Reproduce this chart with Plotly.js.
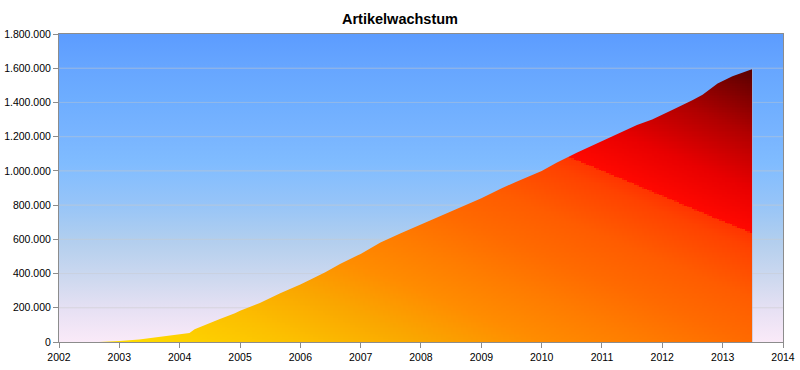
<!DOCTYPE html>
<html>
<head>
<meta charset="utf-8">
<script src="https://cdn.plot.ly/plotly-3.0.1.min.js"></script>
<style>html,body{margin:0;padding:0;background:#fff;}#chart{width:800px;height:370px;}</style>
</head>
<body>
<div id="chart"></div>
<script>
// ---- data ----
const chartTitle = 'Artikelwachstum';
const dates = ['2002-09-01','2003-01-01','2003-05-01','2003-07-01','2003-10-01','2004-01-01','2004-03-01','2004-04-01','2004-06-01','2004-09-01','2004-12-01','2005-01-01','2005-05-01','2005-09-01','2006-01-01','2006-03-01','2006-06-01','2006-09-01','2007-01-01','2007-05-01','2007-09-01','2008-01-01','2008-05-01','2008-09-01','2009-01-01','2009-05-01','2009-08-01','2010-01-01','2010-04-01','2010-08-01','2011-01-01','2011-04-01','2011-08-01','2011-11-01','2012-03-01','2012-07-01','2012-09-01','2012-12-01','2013-01-01','2013-03-01','2013-07-01'];
const articles = [3000,6000,15000,22000,33000,45000,52000,74000,100000,134000,168000,182000,228000,285000,336000,364000,407000,458000,515000,582000,636000,686000,740000,790000,840000,897000,937000,1000000,1048000,1106000,1173000,1215000,1268000,1300000,1356000,1413000,1445000,1510000,1525000,1553000,1595000];
const yTicks = [0,200000,400000,600000,800000,1000000,1200000,1400000,1600000,1800000];
const xRange = ['2002-01-01','2014-01-01'];

// ---- styles ----
const areaScale = [[0,'#ffe000'],[0.15,'#fcc000'],[0.25,'#faa600'],[0.34,'#ff8c00'],[0.42,'#ff7c00'],[0.5,'#ff6a00'],[0.58,'#ff5c00'],[0.67,'#ff4200'],[0.698,'#ff3400'],[0.70,'#ff0800'],[0.78,'#e80000'],[0.88,'#b00000'],[1,'#580000']];
const bgStops = [[0,'#faeaf8'],[0.1,'#e8e1f4'],[0.2,'#cfd9ef'],[0.32,'#b4cfee'],[0.45,'#96c4f8'],[0.58,'#80bcff'],[0.68,'#78b4ff'],[0.78,'#6eaeff'],[0.9,'#66a5ff'],[1,'#5c9cff']];
const gridRGB = [200,200,200], gridAlpha = 0.38;

function hex2rgb(h){h=h.replace('#','');return [0,2,4].map(i=>parseInt(h.substr(i,2),16));}
function bgAt(t){
  for(let i=1;i<bgStops.length;i++){
    if(t<=bgStops[i][0]){
      const a=bgStops[i-1], b=bgStops[i];
      const f=(t-a[0])/(b[0]-a[0]);
      const ca=hex2rgb(a[1]), cb=hex2rgb(b[1]);
      return ca.map((v,k)=>v+(cb[k]-v)*f);
    }
  }
  return hex2rgb(bgStops[bgStops.length-1][1]);
}
const rgbStr = c => 'rgb('+c.map(v=>Math.round(v)).join(',')+')';
const yMax = yTicks[yTicks.length-1];
const gridT = yTicks.slice(1,-1).map(v=>v/yMax);
const d1 = 0.0032, d2 = 0.0011;
let pts = [];
bgStops.forEach(s=>{ if(!gridT.some(g=>Math.abs(s[0]-g)<=d1)) pts.push([s[0], rgbStr(bgAt(s[0]))]); });
gridT.forEach(g=>{
  const blend = t => bgAt(t).map((v,k)=>v*(1-gridAlpha)+gridRGB[k]*gridAlpha);
  pts.push([g-d1, rgbStr(bgAt(g-d1))]);
  pts.push([g-d2, rgbStr(blend(g-d2))]);
  pts.push([g+d2, rgbStr(blend(g+d2))]);
  pts.push([g+d1, rgbStr(bgAt(g+d1))]);
});
pts.sort((a,b)=>a[0]-b[0]);
const bgScale = pts;

// heatmap providing the diagonal gradient of the area
const x0 = Date.parse(dates[0]), x1 = Date.parse(dates[dates.length-1]);
const aMax = Math.max(...articles);
const NX = 260, NY = 160;
const hx = [], hy = [], hz = [];
for(let j=0;j<=NX;j++) hx.push(x0+(x1-x0)*j/NX);
for(let i=0;i<=NY;i++) hy.push(aMax*i/NY);
for(let i=0;i<NY;i++){
  const row=[]; const w=(i+0.5)/NY;
  for(let j=0;j<NX;j++){ const u=(j+0.5)/NX; row.push((u+w)/2); }
  hz.push(row);
}

const areaTrace = {
  type:'heatmap', x:hx, y:hy, z:hz, zmin:0, zmax:1,
  colorscale:areaScale, showscale:false, zsmooth:false, hoverinfo:'skip'
};

// background (everything outside the area under the curve)
const revD = dates.slice().reverse(), revV = articles.slice().reverse();
const maskTrace = {
  type:'scatter', mode:'lines',
  x:[xRange[0], xRange[0], xRange[1], xRange[1], dates[dates.length-1]].concat(revD, [dates[0], xRange[0]]),
  y:[0, yMax, yMax, 0, 0].concat(revV, [0, 0]),
  fill:'toself', line:{width:0, color:'rgba(0,0,0,0)'},
  fillgradient:{type:'vertical', colorscale:bgScale, start:0, stop:yMax},
  hoverinfo:'skip', showlegend:false
};

const axisFont = {family:'Liberation Sans, Arial, sans-serif', size:10.5, color:'#000'};
const layout = {
  width:800, height:370,
  margin:{l:59, r:17, t:34, b:28, pad:0},
  paper_bgcolor:'#ffffff', plot_bgcolor:'#b4cfee',
  separators:',.',
  showlegend:false,
  title:{text:chartTitle, x:0.5, xref:'container', xanchor:'center', y:1-19/370, yref:'container', yanchor:'middle',
         font:{family:'Liberation Sans, Arial, sans-serif', size:14.5, color:'#000', weight:700}},
  xaxis:{type:'date', range:xRange, tick0:xRange[0], dtick:'M12', tickformat:'%Y',
         showgrid:false, zeroline:false, showline:true, linecolor:'#8c8c8c', linewidth:1, mirror:true,
         ticks:'outside', ticklen:5, tickcolor:'#8c8c8c', tickfont:axisFont},
  yaxis:{range:[0,yMax], tickmode:'array', tickvals:yTicks, tickformat:',d',
         showgrid:true, gridcolor:'rgba(200,200,200,0.4)', zeroline:false, showline:true, linecolor:'#8c8c8c', linewidth:1, mirror:true,
         ticks:'outside', ticklen:5, tickcolor:'#8c8c8c', tickfont:axisFont}
};

Plotly.newPlot('chart', [areaTrace, maskTrace], layout, {staticPlot:true, displayModeBar:false});
</script>
</body>
</html>
